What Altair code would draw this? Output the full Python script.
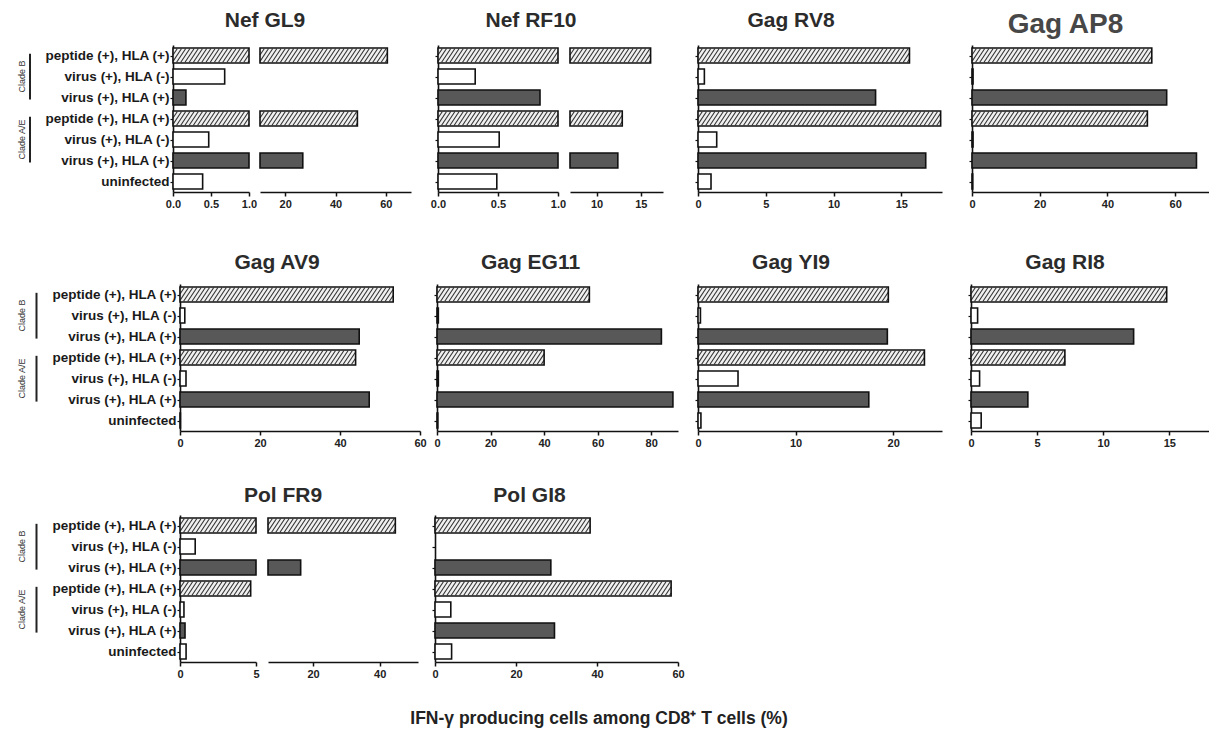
import altair as alt
import pandas as pd

FONT = "Liberation Sans"

# ---------------- data ----------------
categories = ["peptide (+), HLA (+)", "virus (+), HLA (-)", "virus (+), HLA (+)",
              "peptide (+), HLA (+)", "virus (+), HLA (-)", "virus (+), HLA (+)",
              "uninfected"]
conditions = ["peptide", "virus_neg", "virus_pos", "peptide", "virus_neg", "virus_pos", "uninfected"]
clade_names = ["Clade B", "Clade A/E"]
clade_first = [0, 3]
clade_last = [2, 5]

nef_gl9 = [60.6, 0.68, 0.17, 48.7, 0.47, 27.0, 0.39]
nef_rf10 = [16.1, 0.31, 0.85, 12.9, 0.51, 12.4, 0.49]
gag_rv8 = [15.6, 0.47, 13.1, 17.9, 1.38, 16.8, 0.96]
gag_ap8 = [53.1, 0.3, 57.5, 51.8, 0.3, 66.3, 0.2]
gag_av9 = [53.3, 1.2, 44.8, 43.9, 1.5, 47.3, 0.1]
gag_eg11 = [56.9, 0.5, 83.8, 40.0, 0.5, 88.1, 0.3]
gag_yi9 = [19.5, 0.25, 19.4, 23.2, 4.1, 17.5, 0.3]
gag_ri8 = [14.8, 0.5, 12.3, 7.1, 0.65, 4.3, 0.77]
pol_fr9 = [44.7, 1.0, 16.3, 4.65, 0.26, 0.33, 0.4]
pol_gi8 = [38.3, 0.0, 28.6, 58.3, 3.9, 29.5, 4.1]

x_title = "IFN-γ producing cells among CD8⁺ T cells (%)"

# ---------------- styling ----------------
H = 147
HALF = 0.355
INSET = 0.035
STEP = 4.2
SLANT = 9.0
FILL_DOMAIN = ["peptide", "virus_neg", "virus_pos", "uninfected"]
FILL_RANGE = ["#f0f0f0", "#ffffff", "#585858", "#ffffff"]
LABEL_EXPR = "[" + ",".join("'" + c + "'" for c in categories) + "][datum.value]"


def hatch_table(values, lo, hi, width):
    k = width / (hi - lo)
    rec = []
    for i, (v, c) in enumerate(zip(values, conditions)):
        if c != "peptide" or v <= lo:
            continue
        b = (min(v, hi) - lo) * k
        yb, yt = i + HALF - INSET, i - HALF + INSET
        j = 0
        while True:
            xb = -SLANT + j * STEP
            if xb >= b:
                break
            t0 = max(0.0, -xb / SLANT)
            t1 = min(1.0, (b - xb) / SLANT)
            if t1 - t0 > 0.05:
                rec.append({"hx0": lo + (xb + t0 * SLANT) / k,
                            "hx1": lo + (xb + t1 * SLANT) / k,
                            "hy0": yb + t0 * (yt - yb),
                            "hy1": yb + t1 * (yt - yb)})
            j += 1
    return pd.DataFrame(rec)


def segment(values, lo, hi, width, ticks, fmt, yaxis=True, ylabels=False,
            title=None, title_dx=0, title_size=21, title_offset=0, title_color="#2b2b2b",
            clade=None):
    df = pd.DataFrame({"idx": list(range(len(values))), "value": values, "cond": conditions})
    xs = alt.Scale(domain=[lo, hi], nice=False, zero=False)
    ys = alt.Scale(domain=[-0.5, 6.5], reverse=True, nice=False, zero=False)
    xa = alt.Axis(values=ticks, format=fmt, title=None, grid=False, labelFlush=False,
                  labelOverlap=False, tickSize=4, tickWidth=1.5, domainWidth=1.6,
                  domainColor="#111", tickColor="#111", labelFontSize=11,
                  labelFontWeight="bold", labelColor="#222", labelPadding=2, labelFont=FONT)
    if yaxis:
        ya = alt.Axis(values=list(range(7)), labelExpr=LABEL_EXPR, labels=ylabels, title=None,
                      grid=False, tickSize=3, tickWidth=1.2, domainWidth=1.6,
                      domainColor="#111", tickColor="#111", labelFontSize=13.5,
                      labelFontWeight="bold", labelColor="#1a1a1a", labelPadding=1,
                      labelFont=FONT)
    else:
        ya = None

    base = alt.Chart(df).transform_filter(f"datum.value > {lo}").transform_calculate(
        x0=f"{lo}", x1=f"min(datum.value, {hi})",
        y0=f"datum.idx - {HALF}", y1=f"datum.idx + {HALF}")

    enc = dict(x=alt.X("x0:Q", scale=xs, axis=xa), x2="x1:Q",
               y=alt.Y("y0:Q", scale=ys, axis=ya), y2="y1:Q")
    fills = base.mark_rect(strokeWidth=0).encode(
        fill=alt.Fill("cond:N", scale=alt.Scale(domain=FILL_DOMAIN, range=FILL_RANGE), legend=None),
        **enc)
    layers = [fills]
    ht = hatch_table(values, lo, hi, width)
    if len(ht):
        layers.append(alt.Chart(ht).mark_rule(color="#333", strokeWidth=1.1).encode(
            x=alt.X("hx0:Q", scale=xs, axis=xa), x2="hx1:Q",
            y=alt.Y("hy0:Q", scale=ys, axis=ya), y2="hy1:Q"))
    layers.append(base.mark_rect(filled=False, stroke="#111", strokeWidth=1.6).encode(**enc))

    if clade is not None:
        cdf = pd.DataFrame({"clade": clade_names, "first": clade_first, "last": clade_last})
        cb = alt.Chart(cdf).transform_calculate(
            ys_="datum.first - 0.08", ye_="datum.last + 0.1",
            ym_="(datum.first + datum.last) / 2")
        layers.append(cb.mark_rule(color="#222", strokeWidth=2).encode(
            x=alt.value(clade[0]), y=alt.Y("ys_:Q", scale=ys, axis=ya), y2="ye_:Q"))
        layers.append(cb.mark_text(angle=270, align="center", baseline="middle",
                                   fontSize=9, font=FONT, color="#333").encode(
            x=alt.value(clade[1]), y=alt.Y("ym_:Q", scale=ys, axis=ya), text="clade:N"))

    ch = alt.layer(*layers).properties(width=width, height=H)
    if title is not None:
        ch = ch.properties(title=alt.TitleParams(
            text=title, anchor="middle", frame="group", dx=title_dx, offset=title_offset,
            baseline="alphabetic", fontSize=title_size, fontWeight="bold", font=FONT,
            color=title_color))
    return ch


def spacer(w, h=H):
    return alt.Chart(pd.DataFrame({"s": [0]})).mark_point(opacity=0).encode(
        x=alt.value(0), y=alt.value(0)).properties(width=w, height=h)


def hrow(items):
    return alt.HConcatChart(hconcat=items, spacing=0, bounds="flush")


T1, T2, T3 = -3, -6, -8

row1 = hrow([
    segment(nef_gl9, 0, 1, 76, [0, 0.5, 1], ".1f", ylabels=True, title="Nef GL9",
            title_dx=54, title_offset=T1, clade=(-143, -151)),
    spacer(11),
    segment(nef_gl9, 10, 70, 151, [20, 40, 60], "d", yaxis=False),
    spacer(27),
    segment(nef_rf10, 0, 1, 120, [0, 0.5, 1], ".1f", title="Nef RF10", title_dx=33,
            title_offset=T1),
    spacer(12),
    segment(nef_rf10, 7, 17.5, 93, [10, 15], "d", yaxis=False),
    spacer(35),
    segment(gag_rv8, 0, 18, 244, [0, 5, 10, 15], "d", title="Gag RV8", title_dx=-29,
            title_offset=T1),
    spacer(30),
    segment(gag_ap8, 0, 70, 237, [0, 20, 40, 60], "d", title="Gag AP8", title_dx=-25,
            title_size=28, title_offset=-16, title_color="#474747"),
])

row2 = hrow([
    spacer(7),
    segment(gag_av9, 0, 60, 240, [0, 20, 40, 60], "d", ylabels=True, title="Gag AV9",
            title_dx=-23, title_offset=T2, clade=(-143.5, -158)),
    spacer(17),
    segment(gag_eg11, 0, 90, 241, [0, 20, 40, 60, 80], "d", title="Gag EG11", title_dx=-27,
            title_offset=T2),
    spacer(20),
    segment(gag_yi9, 0, 25, 244, [0, 10, 20], "d", title="Gag YI9", title_dx=-29,
            title_offset=T2),
    spacer(29),
    segment(gag_ri8, 0, 18, 238, [0, 5, 10, 15], "d", title="Gag RI8", title_dx=-25,
            title_offset=T2),
])

row3 = hrow([
    spacer(7),
    segment(pol_fr9, 0, 5, 76, [0, 5], "d", ylabels=True, title="Pol FR9", title_dx=65,
            title_offset=T3, clade=(-143.5, -158)),
    spacer(12),
    segment(pol_fr9, 6.5, 51.5, 150, [20, 40], "d", yaxis=False),
    spacer(17),
    segment(pol_gi8, 0, 60, 243, [0, 20, 40, 60], "d", title="Pol GI8", title_dx=-27,
            title_offset=T3),
])

chart = alt.VConcatChart(
    vconcat=[row1, spacer(1, 40), row2, spacer(1, 34), row3], spacing=0
).properties(
    title=alt.TitleParams(text=x_title, orient="bottom", anchor="middle", dx=-14.5, offset=45,
                          baseline="alphabetic", fontSize=17.5, fontWeight="bold",
                          font=FONT, color="#222"),
    padding={"left": 10, "top": 2, "right": 0, "bottom": 0},
).configure_view(stroke=None)

chart.save("out.html", embed_options={"renderer": "svg", "actions": False})
